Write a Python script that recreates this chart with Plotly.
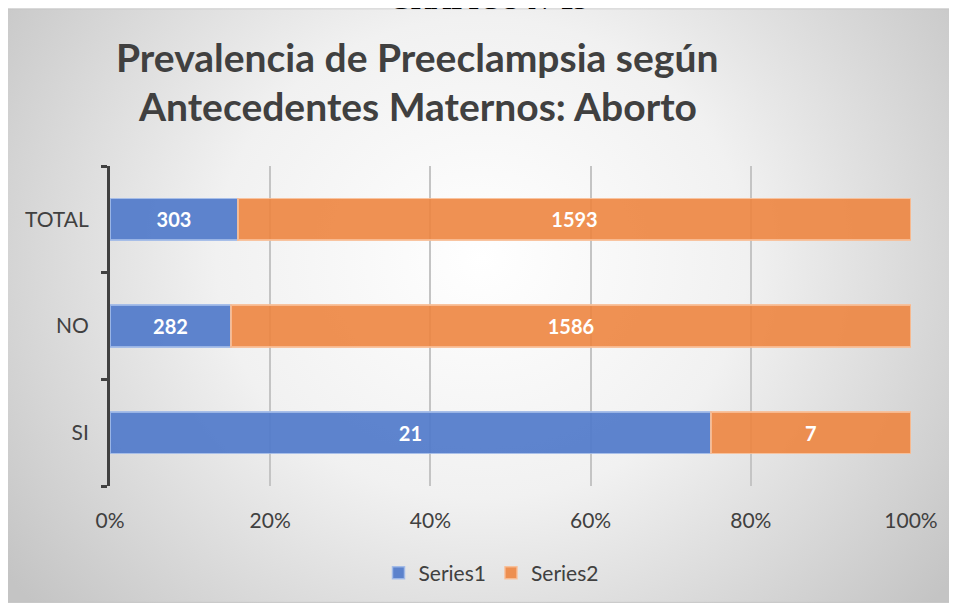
import base64
import plotly.graph_objects as go

categories = ["SI", "NO", "TOTAL"]
series1 = [21, 282, 303]
series2 = [7, 1586, 1593]
series_names = ["Series1", "Series2"]
x_ticks = [0, 20, 40, 60, 80, 100]
x_tick_labels = ["0%", "20%", "40%", "60%", "80%", "100%"]
title_lines = ["Prevalencia de Preeclampsia según", "Antecedentes Maternos: Aborto"]
top_caption = "GRÁFICO N°15"

OFF = 8  # page body margin
W, H = 957 - OFF, 604 - OFF
L, R, T, B = 110 - OFF, 911 - OFF, 166 - OFF, 487 - OFF


def px_x(p):
    return (p - OFF - L) / (R - L)


def px_y(p):
    return (B - (p - OFF)) / (B - T)


svg = (
    '<svg xmlns="http://www.w3.org/2000/svg" width="951" height="596" viewBox="0 0 951 596" preserveAspectRatio="none">'
    '<defs><radialGradient id="g" cx="0.5" cy="0.42" r="0.62" fx="0.5" fy="0.42" gradientTransform="translate(0.5 0.42) scale(1 1.45) translate(-0.5 -0.42)">'
    '<stop offset="0" stop-color="#ffffff"/><stop offset="0.45" stop-color="#f1f1f1"/><stop offset="1" stop-color="#c4c4c4"/>'
    '</radialGradient></defs>'
    '<rect x="0" y="0" width="951" height="596" fill="url(#g)" stroke="#bfbfbf" stroke-width="1.5"/></svg>'
)
src = "data:image/svg+xml;base64," + base64.b64encode(svg.encode()).decode()

fig = go.Figure()
colors = ["rgba(80,122,202,0.92)", "rgba(237,133,64,0.9)"]
lines = ["rgba(160,185,232,0.9)", "rgba(248,190,150,0.9)"]
for name, vals, c, lc in zip(series_names, [series1, series2], colors, lines):
    fig.add_trace(go.Bar(
        y=categories, x=vals, name=name, orientation="h",
        marker=dict(color=c, line=dict(color=lc, width=1.5)),
        text=[str(v) for v in vals], textposition="inside", insidetextanchor="middle",
        textfont=dict(family="Lato", size=20, color="white", weight="bold"),
        width=0.39,
    ))

fig.update_layout(
    width=W, height=H,
    barmode="stack", barnorm="percent",
    margin=dict(l=L, r=W - R, t=T, b=H - B),
    paper_bgcolor="white", plot_bgcolor="rgba(0,0,0,0)",
    showlegend=True,
    legend=dict(orientation="h", x=px_x(491), xanchor="center", y=px_y(573), yanchor="middle",
                font=dict(family="Lato", size=21, color="#404040"), bgcolor="rgba(0,0,0,0)",
                itemwidth=30, traceorder="normal"),
    images=[dict(source=src, xref="paper", yref="paper", x=px_x(6), y=px_y(8),
                 sizex=(957 - 6) / (R - L), sizey=(604 - 8) / (B - T),
                 xanchor="left", yanchor="top", sizing="stretch", layer="below")],
)
fig.update_xaxes(range=[0, 100], tickvals=x_ticks, ticktext=x_tick_labels,
                 showgrid=True, gridcolor="#c4c4c4", gridwidth=1.5, zeroline=False,
                 showline=False, ticks="", tickfont=dict(family="Lato", size=21, color="#404040"),
                 ticklabelstandoff=20)
fig.update_yaxes(range=[-0.5, 2.5], showline=True, linecolor="#404040", linewidth=3,
                 ticks="outside", tickson="boundaries", ticklen=6, tickwidth=3, tickcolor="#404040",
                 showgrid=False, tickfont=dict(family="Lato", size=21, color="#404040"),
                 ticklabelstandoff=14)

ann = [
    dict(text="<b>%s</b>" % title_lines[0], x=px_x(417), y=px_y(57)),
    dict(text="<b>%s</b>" % title_lines[1], x=px_x(417), y=px_y(106)),
]
for a in ann:
    fig.add_annotation(xref="paper", yref="paper", xanchor="center", yanchor="middle",
                       showarrow=False, font=dict(family="Lato", size=39, color="#404040"), **a)
fig.add_annotation(xref="paper", yref="paper", x=px_x(488), y=px_y(-1), xanchor="center", yanchor="middle",
                   showarrow=False, text="<b>%s</b>" % top_caption,
                   font=dict(family="Liberation Serif", size=28, color="black"))

fig.write_html("out.html")
